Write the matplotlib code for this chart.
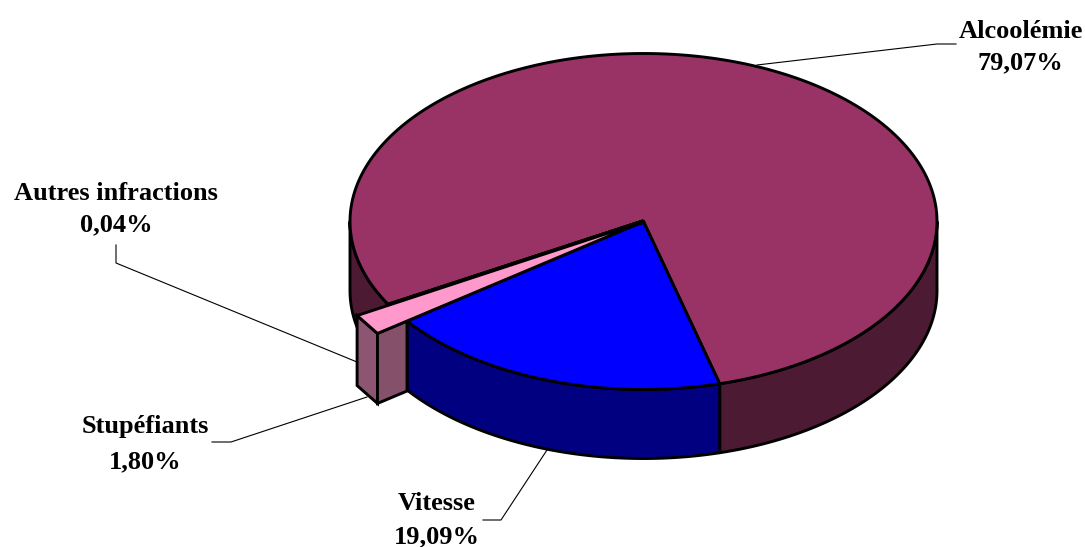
import numpy as np
import matplotlib
matplotlib.use('Agg')
import matplotlib.pyplot as plt
from matplotlib.patches import Polygon

labels = ['Alcoolémie', 'Vitesse', 'Stupéfiants', 'Autres infractions']
values = [79.07, 19.09, 1.80, 0.04]
value_labels = ['79,07%', '19,09%', '1,80%', '0,04%']
top_colors = ['#993366', '#0000ff', '#ff99cc', '#000000']
side_colors = ['#4d1a33', '#000080', '#85506a', '#000000']

# position du camembert, en pixels
cx, cy = 643.5, 221.5
rx, ry = 293.5, 168
depth = 69
start = 240.3
pull = 1.125  # la tranche stupefiants depasse du disque
lw = 2.1


def pt(theta, r=1.0, dz=0):
    t = np.radians(theta)
    return np.column_stack([cx + rx * r * np.sin(t), cy - ry * r * np.cos(t) + dz])


def arc(a, b, dz=0):
    return pt(np.linspace(a, b, 200), dz=dz)


def wall(ax, a, b, color):
    xy = np.vstack([arc(a, b), arc(a, b, depth)[::-1]])
    ax.add_patch(Polygon(xy, closed=True, fc=color, ec='black', lw=lw, joinstyle='round'))


def top(ax, xy, color, width=lw):
    xy = np.vstack([[[cx, cy]], xy])
    ax.add_patch(Polygon(xy, closed=True, fc=color, ec='black', lw=width, joinstyle='miter'))


fig = plt.figure(figsize=(10.85, 5.47), dpi=100)
ax = fig.add_axes([0, 0, 1, 1])
ax.set_xlim(0, 1085)
ax.set_ylim(547, 0)
ax.axis('off')

# limites des tranches (degres, sens horaire depuis le haut)
edges = start + np.cumsum([0] + values) * 3.6

# traits de rappel
leader_x = [[757, 937, 956], [547, 501, 483], [367, 231, 212], [357, 116, 116]]
leader_y = [[65, 44, 44], [450, 520, 520], [397, 442, 442], [362, 263, 245]]
for x, y in zip(leader_x, leader_y):
    ax.plot(x, y, color='black', lw=0.8, zorder=0.5)

# parois
wall(ax, start, 270, side_colors[0])
wall(ax, 450, edges[1], side_colors[0])
wall(ax, edges[1], edges[2], side_colors[1])

# parois de la tranche stupefiants
p1 = pt(np.array([edges[2]]), pull)
p2 = pt(np.array([edges[3]]), pull)
p0 = pt(np.array([edges[2]]))
down = np.array([0, depth + 1])
ax.add_patch(Polygon(np.vstack([p2, p1, p1 + down, p2 + down]), fc='#8c5672', ec='black', lw=lw))
ax.add_patch(Polygon(np.vstack([p1, p0, p0 + down, p1 + down]), fc=side_colors[2], ec='black', lw=lw))

# dessus
top(ax, arc(edges[0], edges[1]), top_colors[0])
top(ax, arc(edges[1], edges[2]), top_colors[1])
top(ax, arc(edges[3], edges[4]), top_colors[3], width=3.2)
top(ax, np.vstack([p1, p2]), top_colors[2])

# etiquettes
label_x = [1020.5, 437, 145, 116]
name_y = [31.5, 504, 427, 193.5]
value_y = [63, 536.5, 462, 225]
font = dict(family='Liberation Serif', weight='bold', size=19, ha='center', va='center', color='black')
for i in range(4):
    ax.text(label_x[i], name_y[i], labels[i], **font)
    ax.text(label_x[i], value_y[i], value_labels[i], **font)

fig.savefig('out.png', dpi=100)
plt.close(fig)
